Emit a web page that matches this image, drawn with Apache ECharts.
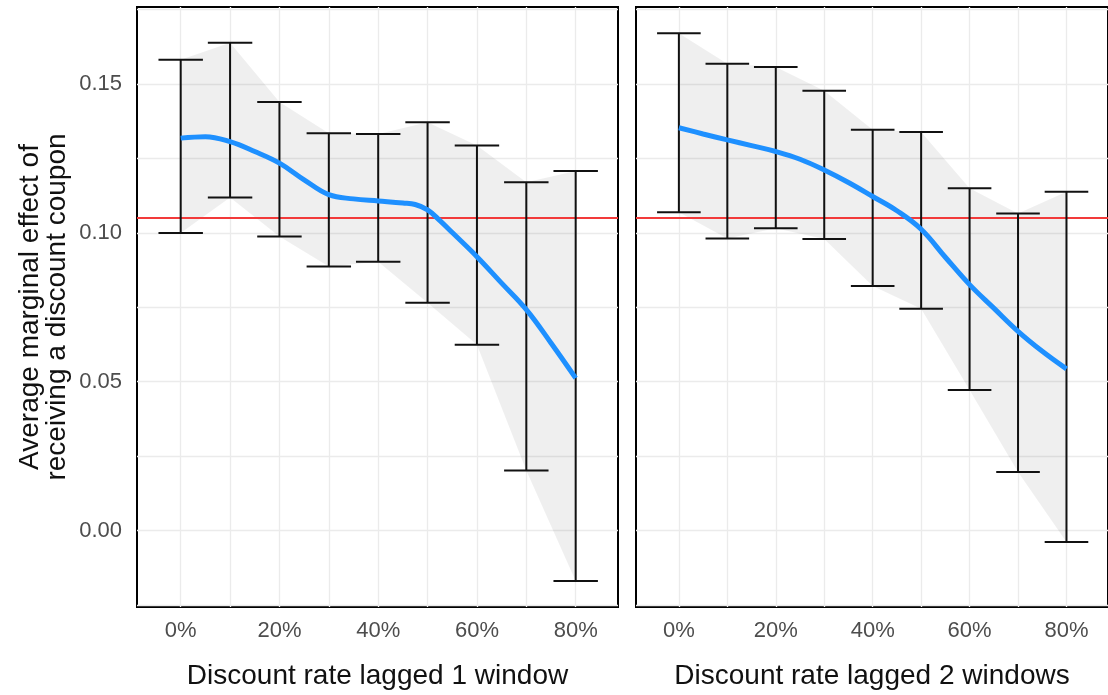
<!DOCTYPE html>
<html>
<head>
<meta charset="utf-8">
<script src="https://cdn.jsdelivr.net/npm/echarts@6/dist/echarts.min.js"></script>
<style>
html,body{margin:0;padding:0;background:#fff;}
#chart{width:1108px;height:695px;}
</style>
</head>
<body>
<div id="chart"></div>
<script>
// ---- data ----
const xCats = [0, 10, 20, 30, 40, 50, 60, 70, 80];
const lower1 = [0.0999, 0.1119, 0.0988, 0.0887, 0.0903, 0.0765, 0.0624, 0.0202, -0.0169];
const upper1 = [0.1581, 0.1638, 0.1439, 0.1334, 0.1332, 0.1371, 0.1293, 0.1170, 0.1208];
const lower2 = [0.1069, 0.0981, 0.1015, 0.0979, 0.0821, 0.0745, 0.0472, 0.0197, -0.0038];
const upper2 = [0.1670, 0.1568, 0.1557, 0.1477, 0.1346, 0.1339, 0.1150, 0.1065, 0.1138];
const smoothX1 = [0, 5, 10, 15, 20, 25, 30, 35, 40, 45, 47.5, 50, 52.5, 55, 60, 65, 70, 75, 80];
const smooth1 = [0.1318, 0.1323, 0.1306, 0.1273, 0.1234, 0.1178, 0.1128, 0.1114, 0.1107, 0.1100, 0.1095, 0.1077, 0.1041, 0.1001, 0.0920, 0.0831, 0.0742, 0.0630, 0.0512];
const smoothX2 = [0, 5, 10, 15, 20, 25, 30, 35, 40, 45, 50, 55, 60, 65, 70, 75, 80];
const smooth2 = [0.1353, 0.1332, 0.1312, 0.1293, 0.1273, 0.1247, 0.1211, 0.1169, 0.1122, 0.1074, 0.1012, 0.0918, 0.0826, 0.0747, 0.0669, 0.0602, 0.0543];
const refLine = 0.105;
const xTickLabels = [0, 20, 40, 60, 80];
const yTickLabels = [0, 0.05, 0.10, 0.15];
const xGridVals = [0, 10, 20, 30, 40, 50, 60, 70, 80];
const yGridVals = [-0.025, 0, 0.025, 0.05, 0.075, 0.1, 0.125, 0.15, 0.175];
const xTitles = ['Discount rate lagged 1 window', 'Discount rate lagged 2 windows'];
const yTitle = 'Average marginal effect of\nreceiving a discount coupon';

const FONT = "'Liberation Sans', Arial, Helvetica, sans-serif";
const capHalf = 4.5;

function ribbonSeries(gi, lo, hi) {
  return {
    type: 'custom', xAxisIndex: gi, yAxisIndex: gi, z: 2, silent: true, clip: true,
    data: xCats.map((x, i) => [x, lo[i], hi[i]]),
    renderItem: function (params, api) {
      if (params.dataIndex !== 0) return null;
      const pts = [];
      for (let i = 0; i < xCats.length; i++) pts.push(api.coord([xCats[i], hi[i]]));
      for (let i = xCats.length - 1; i >= 0; i--) pts.push(api.coord([xCats[i], lo[i]]));
      return { type: 'polygon', shape: { points: pts }, style: { fill: 'rgba(0,0,0,0.062)', stroke: null } };
    }
  };
}

function errorSeries(gi, lo, hi) {
  return {
    type: 'custom', xAxisIndex: gi, yAxisIndex: gi, z: 6, silent: true, clip: true,
    data: xCats.map((x, i) => [x, lo[i], hi[i]]),
    renderItem: function (params, api) {
      const x = api.value(0);
      const pLo = api.coord([x, api.value(1)]);
      const pHi = api.coord([x, api.value(2)]);
      const hw = api.size([capHalf, 0])[0];
      const lw = 2;
      const fill = { fill: '#111' };
      return {
        type: 'group',
        children: [
          { type: 'rect', shape: { x: pLo[0] - lw / 2, y: pHi[1], width: lw, height: pLo[1] - pHi[1] }, style: fill },
          { type: 'rect', shape: { x: pLo[0] - hw, y: pLo[1] - lw / 2, width: 2 * hw, height: lw }, style: fill },
          { type: 'rect', shape: { x: pHi[0] - hw, y: pHi[1] - lw / 2, width: 2 * hw, height: lw }, style: fill }
        ]
      };
    }
  };
}

function gridLineSeries(gi) {
  return {
    type: 'line', xAxisIndex: gi, yAxisIndex: gi, data: [], z: 1, silent: true,
    markLine: {
      z: 1, silent: true, symbol: ['none', 'none'], animation: false, precision: 6,
      label: { show: false },
      lineStyle: { color: '#EBEBEB', width: 1.3, type: 'solid' },
      data: xGridVals.map(v => ({ xAxis: v })).concat(yGridVals.map(v => ({ yAxis: v })))
    }
  };
}

function refSeries(gi) {
  return {
    type: 'line', xAxisIndex: gi, yAxisIndex: gi, data: [], z: 3, silent: true,
    markLine: {
      z: 3, silent: true, symbol: ['none', 'none'], animation: false, precision: 6,
      label: { show: false },
      lineStyle: { color: '#F23A3A', width: 1.8, type: 'solid' },
      data: [{ yAxis: refLine }]
    }
  };
}

function smoothSeries(gi, xs, ys) {
  return {
    type: 'line', xAxisIndex: gi, yAxisIndex: gi, z: 7, silent: true,
    smooth: 0.4, showSymbol: false, symbol: 'none',
    lineStyle: { color: '#1E90FF', width: 5, cap: 'butt' },
    data: xs.map((x, i) => [x, ys[i]])
  };
}

const xMin = -8.85, xMax = 88.57;
const yMin = -0.02567, yMax = 0.17584;

function xAxisDef(gi) {
  return {
    type: 'value', gridIndex: gi, min: xMin, max: xMax,
    axisLine: { show: false }, axisTick: { show: false }, splitLine: { show: false },
    axisLabel: {
      customValues: xTickLabels, formatter: v => Math.round(v) + '%',
      fontSize: 22, color: '#4D4D4D', fontFamily: FONT, margin: 13
    },
    name: xTitles[gi], nameLocation: 'middle', nameGap: 55,
    nameTextStyle: { fontSize: 28, color: '#111', fontFamily: FONT }
  };
}
function yAxisDef(gi) {
  return {
    type: 'value', gridIndex: gi, min: yMin, max: yMax,
    axisLine: { show: false }, axisTick: { show: false }, splitLine: { show: false },
    axisLabel: {
      show: gi === 0, customValues: yTickLabels, formatter: v => v.toFixed(2),
      fontSize: 22, color: '#4D4D4D', fontFamily: FONT, margin: 15
    }
  };
}

const chart = echarts.init(document.getElementById('chart'), null, { renderer: 'canvas' });
chart.setOption({
  animation: false,
  backgroundColor: '#fff',
  grid: [
    { left: 137, top: 7, width: 481, height: 600.5, show: true, borderColor: '#000', borderWidth: 2, backgroundColor: 'transparent', containLabel: false },
    { left: 636, top: 7, width: 481, height: 600.5, show: true, borderColor: '#000', borderWidth: 2, backgroundColor: 'transparent', containLabel: false }
  ],
  xAxis: [xAxisDef(0), xAxisDef(1)],
  yAxis: [yAxisDef(0), yAxisDef(1)],
  graphic: [{
    type: 'text', x: 44, y: 307, rotation: Math.PI / 2,
    style: {
      text: yTitle, fontSize: 28, fontFamily: FONT, fill: '#111',
      align: 'center', verticalAlign: 'middle', textAlign: 'center', textVerticalAlign: 'middle', lineHeight: 27
    }
  }],
  series: [
    gridLineSeries(0), gridLineSeries(1),
    ribbonSeries(0, lower1, upper1), ribbonSeries(1, lower2, upper2),
    refSeries(0), refSeries(1),
    errorSeries(0, lower1, upper1), errorSeries(1, lower2, upper2),
    smoothSeries(0, smoothX1, smooth1), smoothSeries(1, smoothX2, smooth2)
  ]
});
</script>
</body>
</html>
